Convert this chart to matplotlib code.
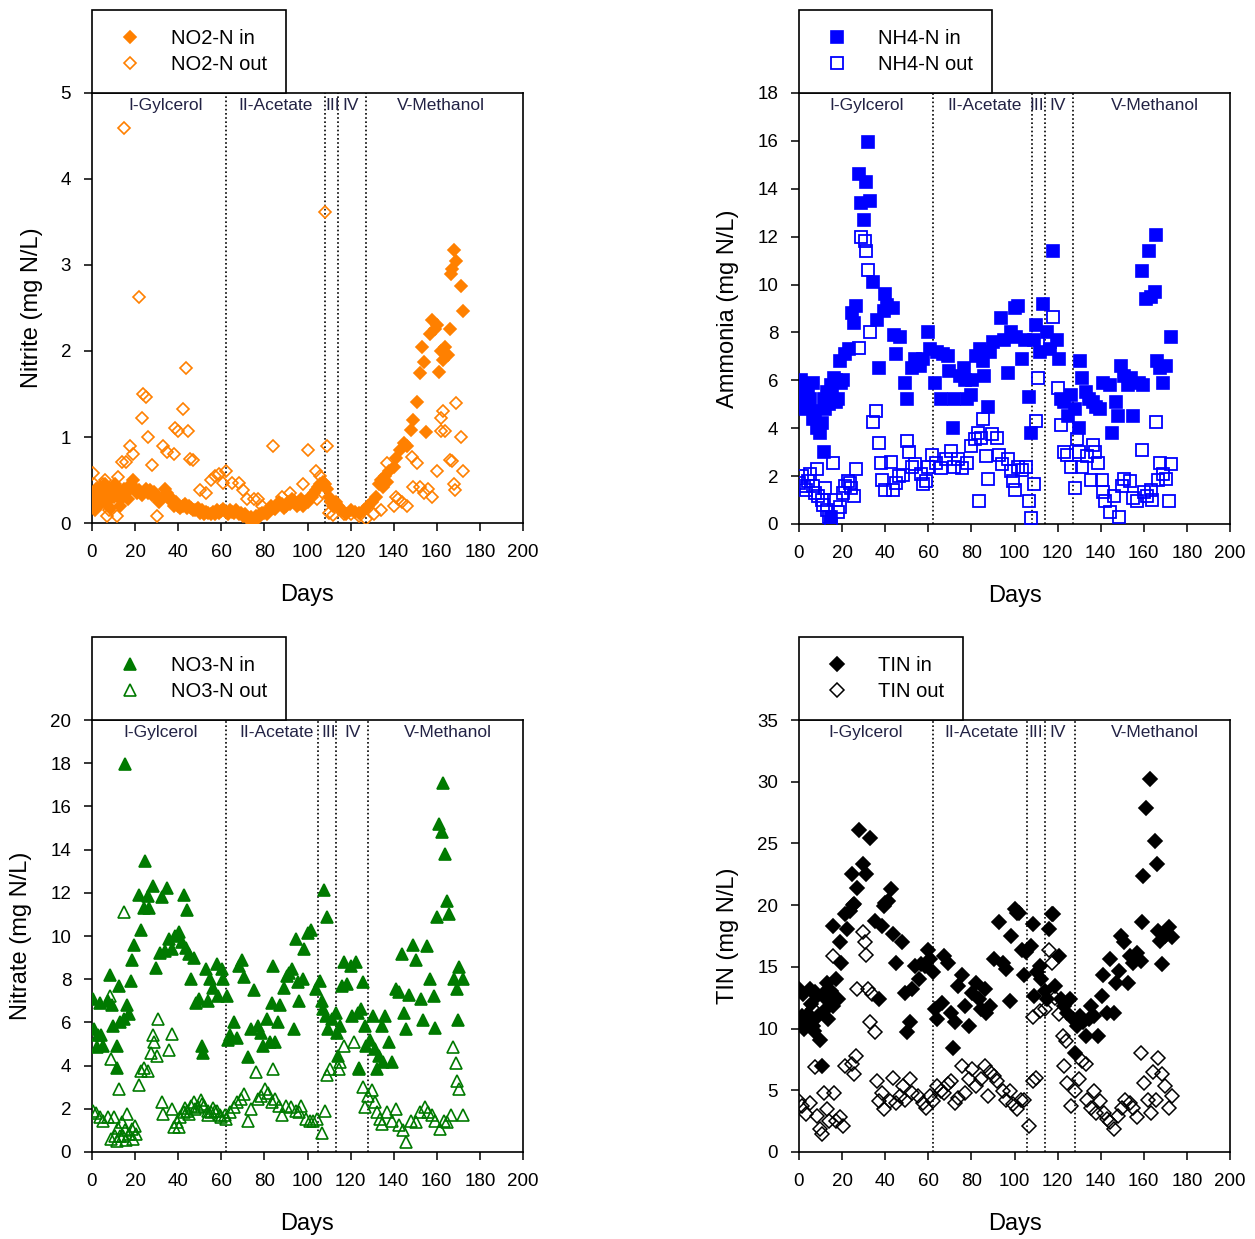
import matplotlib.pyplot as plt
from matplotlib.transforms import blended_transform_factory

plt.rcParams["font.family"] = ["Liberation Sans", "DejaVu Sans"]

# (day, mg N/L) readings for each series
no2_in = [(0, 0.25), (0.5, 0.35), (1, 0.3), (1.5, 0.15), (2, 0.2), (2.5, 0.4), (3, 0.35),
          (3.5, 0.22), (4, 0.4), (5, 0.3), (5.5, 0.42), (6, 0.45), (6.5, 0.3), (7, 0.25),
          (8, 0.4), (8.5, 0.18), (9, 0.35), (10, 0.3), (10.5, 0.45), (11, 0.4), (12, 0.3),
          (12.5, 0.38), (13, 0.2), (14, 0.35), (14.5, 0.3), (15, 0.4), (16, 0.35),
          (16.5, 0.28), (17, 0.4), (18, 0.45), (19, 0.5), (20, 0.4), (21, 0.35), (22, 0.38),
          (23, 0.32), (24, 0.36), (25, 0.4), (26, 0.35), (27, 0.38), (28, 0.33), (29, 0.36),
          (30, 0.3), (31, 0.25), (32, 0.28), (33, 0.3), (34, 0.4), (35, 0.35), (36, 0.3),
          (37, 0.25), (38, 0.2), (39, 0.25), (40, 0.2), (41, 0.18), (42, 0.2), (43, 0.22),
          (44, 0.18), (45, 0.2), (46, 0.17), (47, 0.15), (48, 0.15), (49, 0.17), (50, 0.12),
          (51, 0.15), (52, 0.1), (53, 0.13), (54, 0.12), (55, 0.1), (56, 0.13), (57, 0.1),
          (58, 0.15), (59, 0.12), (60, 0.14), (61, 0.16), (62, 0.13), (63, 0.1), (64, 0.15),
          (65, 0.13), (66, 0.12), (67, 0.15), (68, 0.1), (69, 0.12), (70, 0.08), (71, 0.1),
          (72, 0.06), (73, 0.05), (74, 0.07), (75, 0.04), (76, 0.08), (77, 0.06), (78, 0.1),
          (79, 0.12), (80, 0.12), (81, 0.1), (82, 0.15), (83, 0.2), (84, 0.18), (85, 0.16),
          (86, 0.2), (87, 0.25), (88, 0.22), (89, 0.18), (90, 0.2), (91, 0.25), (92, 0.22),
          (93, 0.28), (94, 0.25), (95, 0.2), (96, 0.22), (97, 0.28), (98, 0.2), (99, 0.24),
          (100, 0.25), (101, 0.3), (102, 0.3), (103, 0.35), (104, 0.38), (105, 0.42),
          (106, 0.45), (107, 0.48), (108, 0.45), (109, 0.4), (110, 0.3), (111, 0.25),
          (112, 0.2), (113, 0.25), (114, 0.2), (116, 0.15), (118, 0.1), (120, 0.15),
          (122, 0.13), (124, 0.12), (126, 0.15), (128, 0.2), (130, 0.25), (132, 0.3),
          (133, 0.45), (134, 0.5), (135, 0.42), (136, 0.55), (137, 0.48), (138, 0.6),
          (140, 0.65), (141, 0.75), (143, 0.85), (145, 0.93), (146, 0.9), (148, 1.08),
          (149, 1.2), (151, 1.41), (152, 1.74), (153, 2.05), (154, 1.87), (155, 1.06),
          (157, 2.2), (158, 2.36), (159, 2.26), (160, 2.3), (161, 1.76), (162, 2.0),
          (163, 1.9), (164, 2.05), (165, 1.95), (166, 2.26), (166.5, 2.9), (167, 2.95),
          (168, 3.17), (169, 3.05), (171, 2.75), (172, 2.47)]

no2_out = [(0.5, 0.58), (1, 0.45), (2, 0.4), (3, 0.2), (4, 0.35), (5, 0.45), (6, 0.5),
           (7, 0.08), (8, 0.15), (9, 0.3), (10, 0.4), (11.5, 0.08), (12, 0.54), (13, 0.3),
           (14, 0.71), (14.8, 4.59), (16, 0.71), (17.6, 0.89), (19, 0.8), (21.8, 2.63),
           (23, 1.22), (23.6, 1.5), (25, 1.47), (26, 1.0), (28, 0.67), (30, 0.08), (33, 0.89),
           (35, 0.83), (38, 0.8), (38.5, 1.1), (40, 1.07), (42, 1.33), (43.5, 1.8),
           (44.5, 1.07), (45.5, 0.74), (47, 0.73), (50, 0.38), (53, 0.35), (55, 0.5),
           (57, 0.55), (59, 0.57), (61, 0.46), (62, 0.6), (65, 0.46), (68, 0.46), (70, 0.38),
           (72, 0.28), (75, 0.28), (77, 0.28), (79, 0.2), (84, 0.9), (88, 0.3), (92, 0.35),
           (98, 0.45), (100, 0.85), (104, 0.6), (104.5, 0.28), (106, 0.55), (108, 3.62),
           (109, 0.9), (110, 0.12), (112, 0.09), (117, 0.1), (120, 0.1), (124, 0.08),
           (127, 0.05), (131, 0.1), (134, 0.15), (137, 0.7), (140, 0.2), (141, 0.3),
           (142, 0.28), (144, 0.25), (146, 0.2), (148.5, 0.77), (149, 0.42), (151, 0.7),
           (152, 0.42), (154, 0.35), (156, 0.4), (158, 0.3), (160, 0.6), (161.8, 1.22),
           (162, 1.07), (163, 1.3), (164, 1.07), (166, 0.73), (167, 0.72), (168, 0.45),
           (168.5, 0.38), (169, 1.4), (171, 1.0), (172, 0.6)]

nh4_in = [(0, 5.6), (0.8, 6.0), (1.6, 5.2), (2, 4.9), (3.3, 5.8), (3.3, 4.8), (4, 5.5),
          (4.5, 5.0), (5, 5.2), (6.6, 5.9), (6.6, 4.4), (7.5, 4.7), (8.2, 4.0), (9.9, 3.8),
          (10.7, 4.2), (11.5, 3.0), (11.5, 5.2), (12, 4.8), (13, 5.5), (14, 5.0), (14.8, 5.8),
          (15, 0.3), (15.5, 5.5), (16.4, 6.1), (17, 6.0), (17.2, 5.1), (18, 5.2), (18.9, 6.8),
          (19.5, 5.9), (20.5, 6.0), (21.3, 7.1), (23, 7.3), (24.6, 8.8), (25.5, 8.4),
          (26.3, 9.1), (28, 14.6), (28.7, 13.4), (30, 12.7), (31.2, 14.3), (32, 15.95),
          (33, 13.5), (34.5, 10.1), (36, 8.5), (37, 6.5), (39.4, 8.9), (40, 9.6), (41, 9.15),
          (43.5, 9.0), (44.3, 7.9), (45, 7.1), (46.8, 7.8), (49, 5.9), (50, 5.2), (52.5, 6.5),
          (54, 6.9), (56, 6.6), (57.5, 6.9), (60, 8.0), (60.8, 7.3), (63, 5.9), (64, 7.2),
          (65.7, 5.2), (67, 7.1), (69, 7.0), (69.8, 6.4), (71.4, 4.0), (72, 5.2), (74.7, 6.2),
          (76.4, 6.5), (77, 6.0), (78, 5.2), (79.6, 5.4), (80.5, 6.0), (82, 7.0), (84, 7.3),
          (85.4, 6.8), (86, 6.2), (87.8, 4.9), (88.7, 7.2), (90, 7.6), (93.6, 8.6), (95, 7.7),
          (96.9, 6.3), (98.5, 8.0), (100, 9.0), (100.5, 7.8), (101.8, 9.1), (103.4, 6.9),
          (105, 7.7), (106.7, 5.3), (107.5, 3.8), (109, 7.7), (110, 8.3), (111.7, 7.2),
          (113.3, 9.2), (115, 8.0), (116.6, 7.3), (118, 11.4), (119.9, 7.7), (120.7, 6.9),
          (121.5, 5.2), (123, 5.1), (125, 4.5), (126.4, 5.4), (128, 4.8), (129.7, 4.0),
          (130.5, 6.8), (131.4, 6.1), (133, 5.5), (134.5, 5.2), (136.3, 5.1), (138, 4.9),
          (139.6, 4.8), (141, 5.9), (144.5, 5.8), (145.3, 3.8), (147, 5.1), (147.8, 4.5),
          (149.4, 6.6), (151, 6.2), (152.7, 5.8), (154, 6.1), (155, 4.5), (157.6, 5.9),
          (159, 10.55), (159.5, 5.8), (161, 9.4), (162.5, 11.4), (163.5, 9.5), (165, 9.7),
          (165.8, 12.05), (166, 6.8), (167.5, 6.5), (169, 5.9), (170.5, 6.6), (172.4, 7.8)]

nh4_out = [(0, 1.7), (1.6, 2.0), (2.5, 1.6), (3.3, 1.4), (4, 1.8), (5, 2.1), (6.6, 1.6),
           (7.5, 1.3), (8.2, 2.3), (9, 1.15), (10.7, 1.0), (11, 0.8), (12, 1.5), (13, 0.6),
           (14, 0.3), (14.8, 0.0), (16, 2.55), (17.2, 1.0), (18, 0.5), (19, 0.7), (20.5, 1.3),
           (21.5, 1.6), (22.7, 1.8), (23.5, 1.7), (24.3, 1.5), (25.5, 1.15), (26.3, 2.3),
           (28, 7.35), (28.7, 12.0), (30.4, 11.8), (30.9, 11.4), (32, 10.6), (33, 8.0),
           (34.5, 4.25), (35.6, 4.7), (37, 3.4), (38, 2.55), (38.6, 1.85), (40, 1.4),
           (42.7, 2.6), (43.5, 1.4), (45, 1.7), (46.5, 2.0), (48.4, 2.05), (50, 3.45),
           (51, 3.0), (52.5, 2.4), (54, 2.5), (56.6, 2.1), (57.5, 1.65), (59, 1.8), (60, 2.4),
           (61.6, 2.9), (63.5, 2.55), (65.7, 2.35), (68, 2.7), (70.6, 3.05), (72, 2.4),
           (73.9, 2.7), (75.5, 2.35), (78, 2.55), (79.6, 3.25), (81.5, 3.55), (83, 3.8),
           (83.7, 0.95), (84.5, 3.6), (85.4, 4.4), (87, 2.85), (87.8, 1.9), (89.5, 3.75),
           (92, 3.6), (92.8, 2.9), (94.4, 2.5), (96.9, 2.7), (98.5, 2.2), (99.5, 1.8),
           (100, 1.4), (101.8, 2.4), (103.5, 2.25), (105.5, 2.4), (106.7, 0.95),
           (107.5, 0.25), (109, 1.65), (110, 4.3), (110.8, 6.1), (116.6, 7.6), (118, 8.65),
           (120, 5.7), (121.5, 4.15), (123, 3.0), (124.5, 2.9), (126.4, 2.4), (128, 1.5),
           (129, 3.55), (130, 3.0), (131.5, 2.4), (133.8, 2.85), (135.5, 1.85), (136.3, 3.3),
           (137.5, 3.0), (138.7, 2.55), (140.4, 1.85), (141.2, 1.35), (142, 0.95),
           (144.5, 0.5), (146, 1.15), (148.6, 0.3), (150, 1.6), (151, 1.9), (153.5, 1.8),
           (155, 1.1), (156.8, 0.95), (159, 3.1), (160, 1.35), (161.5, 1.15), (163.4, 1.4),
           (164, 1.0), (165.8, 4.25), (166.5, 1.85), (167.5, 2.55), (169, 2.1), (170.5, 1.9),
           (171.6, 0.95), (172.4, 2.5)]

no3_in = [(0.6, 7.1), (3.5, 6.9), (1, 5.7), (2.7, 5.4), (4, 5.4), (5, 4.9), (2.5, 4.85),
          (7.5, 7.0), (8.3, 8.2), (9.1, 6.8), (9.9, 5.85), (11.5, 4.9), (11.5, 3.9),
          (12.3, 7.7), (13, 6.0), (14.7, 6.15), (15.3, 17.95), (16.3, 6.8), (17, 6.4),
          (17.9, 7.9), (18.7, 8.9), (19.5, 9.6), (21.9, 11.9), (22.7, 10.3), (24.3, 11.3),
          (24.6, 13.45), (25.9, 11.85), (26.5, 11.3), (28.3, 12.3), (29.9, 8.5), (31.5, 9.2),
          (32.3, 11.8), (33.9, 9.3), (35, 12.2), (35.5, 9.85), (37, 9.4), (38.7, 10.0),
          (40.3, 10.2), (41.9, 9.7), (42.7, 11.9), (43.5, 9.45), (44, 11.2), (45, 9.15),
          (45.8, 8.0), (47.4, 9.0), (48.2, 6.9), (49.8, 7.1), (51.1, 4.9), (51.5, 4.6),
          (52.7, 8.45), (53.8, 7.0), (54.6, 8.0), (56.2, 7.6), (57.8, 8.7), (58.6, 7.2),
          (60.2, 8.45), (61, 8.0), (62.6, 7.2), (63, 5.2), (64.2, 5.4), (65.8, 6.0),
          (67.4, 5.3), (68.2, 8.6), (69.8, 8.9), (70.6, 8.1), (72.2, 4.4), (73.8, 5.7),
          (75.4, 7.5), (77, 5.85), (78.6, 5.5), (79.4, 4.9), (81, 6.15), (82.5, 5.1),
          (83.4, 6.9), (84.2, 8.6), (85, 5.1), (86.5, 6.0), (87.4, 6.8), (89, 7.6),
          (90.6, 8.15), (91.4, 8.3), (93, 8.45), (93.8, 5.7), (94.6, 9.85), (95.5, 7.85),
          (96.2, 7.0), (97.8, 8.0), (98.6, 9.4), (100.2, 10.15), (101.5, 10.3), (104, 7.55),
          (105.8, 7.9), (106.6, 7.0), (107.3, 6.6), (107.5, 12.15), (108.5, 6.3), (109, 10.9),
          (109.7, 5.7), (111.3, 6.15), (113, 6.45), (113.5, 5.5), (114, 4.45), (115.3, 5.85),
          (116.1, 7.7), (117, 8.8), (118.5, 7.8), (120, 8.6), (120.5, 6.3), (122.5, 8.8),
          (123.3, 6.45), (124, 3.85), (125, 6.6), (125.7, 7.85), (126.5, 5.85), (127.3, 4.9),
          (129, 5.2), (130.5, 6.3), (131.3, 4.75), (132.1, 3.85), (133, 4.45), (134.5, 5.85),
          (135, 4.15), (136.1, 6.3), (137.7, 5.1), (139.3, 4.15), (140.9, 7.55), (142.5, 7.4),
          (144, 9.15), (144.9, 6.45), (145.7, 5.7), (147.3, 7.25), (148.9, 9.6), (150.5, 8.9),
          (152.9, 7.1), (153.7, 6.1), (155.3, 9.55), (156.9, 8.0), (158.5, 7.2),
          (159.3, 5.75), (160, 10.9), (161, 15.2), (162.4, 14.8), (163, 17.1), (164, 13.8),
          (164.8, 11.6), (165.5, 11.0), (168, 8.0), (169.6, 7.55), (169.8, 6.1),
          (170.4, 8.55), (172, 8.0)]

no3_out = [(0.3, 1.9), (2, 1.8), (3.5, 1.6), (5, 1.45), (7.5, 1.6), (8.3, 7.2), (8.6, 4.3),
           (9, 0.6), (10, 1.6), (10.7, 0.75), (11.5, 0.5), (12, 1.1), (12.3, 2.9), (13, 0.75),
           (13.8, 1.4), (14.5, 0.75), (15, 11.1), (15.5, 1.0), (16, 0.55), (16.3, 1.75),
           (17, 0.85), (18.7, 1.05), (19, 0.6), (20, 1.2), (20.3, 0.85), (21.9, 3.1),
           (22.7, 3.75), (24.3, 3.9), (26, 3.75), (27.5, 4.6), (28.3, 5.4), (29, 5.1),
           (30, 4.45), (30.7, 6.15), (32.3, 2.3), (33, 1.75), (35.5, 4.7), (37, 5.45),
           (37.2, 2.0), (37.9, 1.15), (39.5, 1.4), (40.3, 1.15), (41, 1.6), (42.7, 1.85),
           (43, 2.05), (44.3, 1.9), (45, 1.75), (46, 2.15), (47.5, 2.3), (48, 2.0), (49, 2.1),
           (50.6, 2.4), (51, 2.2), (52.2, 2.15), (53.8, 1.9), (54, 1.7), (55.4, 1.85),
           (56, 2.05), (57, 1.9), (58, 1.9), (59.4, 1.7), (60, 1.6), (61.8, 1.7), (62, 1.55),
           (64.2, 1.85), (65.8, 2.1), (67.4, 2.3), (69, 2.45), (70.6, 2.7), (72.2, 1.45),
           (73.8, 2.0), (76.2, 3.7), (77, 2.45), (78.6, 2.6), (80.2, 2.9), (81.8, 2.75),
           (83.4, 2.3), (84.2, 3.85), (85, 2.45), (86.6, 2.15), (88.2, 1.7), (89.8, 2.15),
           (92.2, 2.1), (94.6, 1.9), (96.2, 1.85), (97, 2.15), (99.4, 1.55), (101, 1.45),
           (102.6, 1.45), (104.2, 1.55), (106.5, 0.9), (108.1, 1.9), (109, 3.55),
           (110.5, 3.85), (114.5, 3.85), (115.3, 4.15), (117, 4.9), (121.7, 5.1), (124, 3.9),
           (125.7, 3.0), (126.5, 2.1), (128, 2.6), (129.7, 2.85), (131.3, 2.3), (132.1, 1.85),
           (133.7, 1.55), (134.5, 1.3), (136.9, 1.85), (139.3, 1.45), (140.9, 2.0),
           (142.5, 1.25), (144.1, 1.0), (145.7, 0.45), (148.1, 1.45), (150.5, 1.4),
           (152.1, 1.85), (154.5, 2.1), (156.1, 1.85), (157.7, 1.7), (159.3, 1.45),
           (161.7, 1.05), (163.3, 1.45), (164.9, 1.4), (166.5, 1.7), (167.3, 4.85),
           (168.8, 4.1), (169.6, 3.3), (170.4, 2.9), (172, 1.7)]

tin_in = [(0, 13.2), (0.5, 10.5), (1.6, 11.0), (2, 12.8), (2.5, 10.0), (3.3, 10.2), (4, 11.2),
          (4.9, 13.2), (5.2, 10.8), (5.8, 12.0), (6.6, 10.2), (7, 9.8), (7.5, 13.0),
          (8.2, 12.6), (9, 11.0), (9.9, 9.1), (10.7, 7.0), (11, 12.8), (12, 11.5),
          (12.3, 12.4), (13, 13.7), (13.5, 10.8), (14, 12.2), (14.8, 13.05), (15.6, 18.3),
          (16, 11.8), (17.2, 14.0), (18, 12.4), (18.9, 17.0), (19.7, 15.35), (21.3, 19.3),
          (22.2, 18.05), (23.8, 19.5), (24.6, 22.5), (24.9, 20.0), (25.5, 20.1), (27, 21.4),
          (27.9, 26.1), (29.6, 23.3), (31, 22.5), (32.8, 25.4), (35.3, 18.7), (37, 12.4),
          (38.6, 18.3), (39.4, 19.95), (40, 20.2), (41.5, 20.35), (42.7, 21.3), (43.5, 17.65),
          (45.2, 15.35), (47.6, 17.0), (49.3, 12.9), (50, 9.7), (51.7, 10.5), (52.5, 13.2),
          (54, 15.1), (55.8, 14.0), (56.6, 15.2), (58.3, 15.1), (60, 16.4), (61, 15.6),
          (62.4, 14.55), (63.2, 11.55), (64, 10.75), (66.5, 12.1), (67.3, 15.9), (69, 15.35),
          (70.6, 11.3), (71.4, 8.45), (72.5, 10.5), (73.9, 13.45), (75.5, 14.3), (77, 11.85),
          (78.8, 10.2), (80.5, 12.9), (82, 13.7), (83.5, 12.4), (84.5, 11.55), (86.2, 13.2),
          (87, 11.3), (88.5, 11.85), (90.3, 15.6), (92.8, 18.6), (94.5, 15.35), (96, 14.8),
          (97.7, 12.25), (98.5, 17.5), (100.2, 19.7), (101, 19.4), (102, 19.4), (103.4, 16.4),
          (104.3, 14.3), (105.5, 16.2), (107.5, 16.7), (108.4, 18.45), (109.2, 12.65),
          (110.5, 14.55), (111.7, 15.1), (112.5, 14.0), (114, 13.05), (115, 12.4),
          (115.8, 18.05), (117.4, 19.3), (118, 19.3), (119, 13.45), (120.7, 15.9),
          (121.5, 12.4), (123, 11.85), (124.5, 11.3), (125.6, 12.4), (127.3, 10.75),
          (128, 8.05), (129, 10.2), (130.5, 11.0), (132, 10.5), (133, 9.4), (134.5, 10.75),
          (135.5, 11.85), (137, 11.0), (138.7, 9.4), (140.4, 12.65), (141, 14.3),
          (142.9, 11.3), (144.5, 15.6), (146, 11.3), (147, 13.7), (148.6, 14.7), (149.4, 17.5),
          (151, 17.0), (152.7, 13.7), (153.5, 15.9), (155.2, 15.35), (156.8, 16.15),
          (158.5, 15.5), (159.3, 18.6), (159.5, 22.4), (161, 27.85), (163, 30.2), (165, 25.2),
          (166, 23.3), (166.7, 17.9), (167.5, 17.1), (168.3, 15.2), (170, 17.5),
          (171.5, 18.2), (173.2, 17.4)]

tin_out = [(0, 4.15), (1.5, 3.7), (3.3, 3.05), (5, 4.0), (6.6, 11.55), (7.4, 6.85), (8.5, 2.9),
           (9.9, 1.85), (10.7, 1.45), (11.5, 4.8), (13, 3.45), (14, 2.5), (15.6, 15.9),
           (16.4, 4.8), (17.2, 2.5), (18.9, 2.8), (20.5, 2.1), (21.3, 7.0), (24.6, 7.1),
           (26.3, 7.8), (25.5, 6.3), (27.1, 13.2), (29.6, 17.8), (30.4, 17.0), (31.2, 16.0),
           (32, 13.2), (33.7, 12.8), (32.8, 10.5), (35.3, 9.7), (36, 5.75), (37, 4.15),
           (38.6, 4.8), (39.4, 3.45), (42, 4.15), (43.5, 6.0), (45.2, 4.0), (46.8, 4.55),
           (48.4, 5.35), (49.3, 4.25), (51.7, 5.9), (52.5, 4.8), (55, 4.55), (57.5, 4.0),
           (59, 3.6), (60.8, 4.55), (62.4, 4.15), (64, 5.35), (65.7, 4.95), (67.3, 4.8),
           (69, 5.5), (70.6, 5.75), (72.2, 4.0), (73.9, 4.4), (75.5, 7.0), (77.2, 4.8),
           (78.8, 5.9), (80.5, 6.7), (82, 5.35), (84.5, 5.9), (86.2, 7.0), (87.8, 4.55),
           (88.7, 6.45), (90.3, 6.15), (92, 5.75), (94.5, 4.95), (96.2, 4.25), (97.8, 4.95),
           (99.5, 3.85), (101.1, 3.45), (102.8, 4.25), (104.4, 4.25), (106.7, 2.1),
           (108.4, 5.75), (110, 6.0), (108.8, 10.9), (111.7, 11.45), (114, 11.55),
           (115.8, 16.4), (117.4, 15.35), (119, 12.5), (120.7, 11.15), (122.3, 9.4),
           (124, 9.0), (123, 7.0), (124.5, 5.6), (126.4, 3.7), (128, 4.95), (129.7, 5.9),
           (131.4, 7.4), (133, 7.1), (133.8, 4.25), (135.5, 3.6), (137, 4.95), (137.9, 3.2),
           (139.6, 4.15), (141.3, 3.2), (142.9, 2.65), (144.5, 2.4), (146, 1.85),
           (147.8, 2.9), (150, 3.6), (151.5, 4.25), (153.5, 4.0), (155, 3.6), (156.8, 2.8),
           (158.5, 8.05), (160, 5.6), (161.8, 4.25), (163.4, 3.2), (164.2, 6.45),
           (165.8, 4.25), (166.7, 7.65), (168.3, 6.3), (170, 5.35), (171.6, 3.6),
           (173.2, 4.55)]

phase_names = ["I-Gylcerol", "II-Acetate", "III", "IV", "V-Methanol"]

fig = plt.figure(figsize=(12.55, 12.39), dpi=100)
W, H = 1255, 1239


def add_panel(left, top, right, bottom):
    return fig.add_axes([left / W, 1 - bottom / H, (right - left) / W, (bottom - top) / H])


def scatter(ax, pts, marker, ms, color, label, filled, mew=1.2):
    days = [p[0] for p in pts]
    vals = [p[1] for p in pts]
    ax.plot(days, vals, marker, ms=ms, mfc=color if filled else "none", mec=color,
            mew=mew, label=label, zorder=3)


def style_panel(ax, ymax, ystep, ylabel, phase_lines, phase_pos):
    ax.set_xlim(0, 200)
    ax.set_ylim(0, ymax)
    ax.set_xticks(range(0, 201, 20))
    ax.set_yticks([v * ystep for v in range(int(round(ymax / ystep)) + 1)])
    ax.tick_params(direction="out", length=6, width=1.1, labelsize=13.5, pad=9,
                   top=False, right=False)
    for side in ax.spines.values():
        side.set_linewidth(1.2)
    ax.set_xlabel("Days", fontsize=17, labelpad=17)
    ax.set_ylabel(ylabel, fontsize=17, labelpad=13)
    for d in phase_lines:
        ax.axvline(d, color="black", linestyle=(0, (1, 1.5)), linewidth=1.2, zorder=1)
    trans = blended_transform_factory(ax.transData, ax.transAxes)
    for name, x in zip(phase_names, phase_pos):
        ax.text(x, 0.988, name, transform=trans, ha="center", va="top",
                fontsize=12.5, color="#222244")


def add_legend(ax):
    leg = ax.legend(loc="lower left", bbox_to_anchor=(0, 1), borderaxespad=0,
                    fontsize=14.5, fancybox=False, edgecolor="black", framealpha=1,
                    borderpad=0.95, handlelength=1.9, handletextpad=1.05,
                    labelspacing=0.35)
    leg.get_frame().set_linewidth(1.2)


# Nitrite
ax1 = add_panel(92, 93, 523, 523)
scatter(ax1, no2_in, "D", 6.5, "#FF8000", "NO2-N in", True)
scatter(ax1, no2_out, "D", 6.5, "#FF8000", "NO2-N out", False)
style_panel(ax1, 5, 1, "Nitrite (mg N/L)", [62, 108, 114, 127],
            [34, 85, 111.5, 120, 162])
add_legend(ax1)

# Ammonia
ax2 = add_panel(799, 93, 1230, 524)
scatter(ax2, nh4_in, "s", 8, "#0000FF", "NH4-N in", True)
scatter(ax2, nh4_out, "s", 8, "#0000FF", "NH4-N out", False, mew=1.3)
style_panel(ax2, 18, 2, "Ammonia (mg N/L)", [62, 108, 114, 127],
            [31.5, 86, 110.5, 120, 165])
add_legend(ax2)

# Nitrate
ax3 = add_panel(92, 720, 523, 1152)
scatter(ax3, no3_in, "^", 9, "#007A00", "NO3-N in", True)
scatter(ax3, no3_out, "^", 9, "#007A00", "NO3-N out", False)
style_panel(ax3, 20, 2, "Nitrate (mg N/L)", [62, 105, 113, 128],
            [32, 85.5, 110, 121, 165])
add_legend(ax3)

# TIN
ax4 = add_panel(799, 720, 1230, 1152)
scatter(ax4, tin_in, "D", 7, "black", "TIN in", True)
scatter(ax4, tin_out, "D", 7, "black", "TIN out", False, mew=1.1)
style_panel(ax4, 35, 5, "TIN (mg N/L)", [62, 106, 114, 128],
            [31, 84.5, 110, 120, 165])
add_legend(ax4)

fig.savefig("out.png", dpi=100)
